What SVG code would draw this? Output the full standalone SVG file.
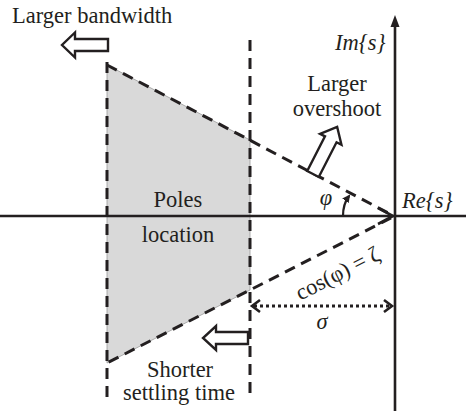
<svg xmlns="http://www.w3.org/2000/svg" width="466" height="411" viewBox="0 0 466 411">
<style>
text{font-family:"Liberation Serif","Times New Roman",serif;font-size:22.5px;fill:#231f20}
.it{font-style:italic}
.ax{stroke:#231f20;stroke-width:2.6;fill:none}
.dash{stroke:#231f20;stroke-width:3;fill:none;stroke-dasharray:11 7}
.hollow{fill:#fff;stroke:#231f20;stroke-width:2.4;stroke-linejoin:miter}
</style>
<defs>
<marker id="solidHead" markerWidth="8" markerHeight="8" refX="6" refY="4" orient="auto" markerUnits="userSpaceOnUse">
<path d="M0,0 L8,4 L0,8 Z" fill="#231f20"/>
</marker>
</defs>
<rect width="466" height="411" fill="#fff"/>
<g id="region">
<polygon points="107,65 250,140 250,290 107,363" fill="#d9d9d9" stroke="#9a9a9a" stroke-width="0.8"/>
</g>
<g id="connectors">
<line class="ax" x1="0" y1="216" x2="466" y2="216"/>
<line class="ax" x1="395" y1="411" x2="395" y2="26"/>
<polygon points="395,15 390.5,27 399.5,27" fill="#231f20"/>
<line class="dash" x1="107" y1="62" x2="107" y2="398"/>
<line class="dash" x1="250" y1="40" x2="250" y2="398"/>
<line class="dash" x1="107" y1="65" x2="392" y2="215"/>
<polyline points="378,208 393,216 378,224" class="ax"/>
<line class="dash" x1="391" y1="218" x2="107" y2="363"/>
<line x1="254" y1="306" x2="390" y2="306" stroke="#231f20" stroke-width="3" stroke-dasharray="3 3"/>
<polyline points="260,300 252,306 260,312" class="ax"/>
<polyline points="384,300 392,306 384,312" class="ax"/>
<path d="M343,216 Q343,204 349,196" fill="none" stroke="#231f20" stroke-width="2.2" marker-end="url(#solidHead)"/>
</g>
<g id="arrow-bandwidth">
<polygon class="hollow" transform="translate(108,45) rotate(180)" points="0,-6 33,-6 33,-12.5 46,0 33,12.5 33,6 0,6"/>
</g>
<g id="arrow-overshoot">
<polygon class="hollow" transform="translate(313,174) rotate(-62.9)" points="0,-6.5 39,-6.5 39,-12 53,0 39,12 39,6.5 0,6.5"/>
</g>
<g id="arrow-settling">
<polygon class="hollow" transform="translate(248,338) rotate(180)" points="0,-6 32,-6 32,-12 45,0 32,12 32,6 0,6"/>
</g>
<g id="labels">
<text x="12" y="23">Larger bandwidth</text>
<text class="it" x="335" y="50">Im{s}</text>
<text x="337" y="91" text-anchor="middle">Larger</text>
<text x="337" y="116" text-anchor="middle">overshoot</text>
<text class="it" x="326" y="205" text-anchor="middle">φ</text>
<text class="it" x="402" y="208">Re{s}</text>
<text x="178" y="207" text-anchor="middle">Poles</text>
<text x="178" y="242" text-anchor="middle">location</text>
<text transform="translate(341,280) rotate(-27)" text-anchor="middle">cos(φ) = ζ</text>
<text class="it" x="322" y="329" text-anchor="middle">σ</text>
<text x="180" y="377" text-anchor="middle">Shorter</text>
<text x="179" y="400" text-anchor="middle">settling time</text>
</g>
</svg>
